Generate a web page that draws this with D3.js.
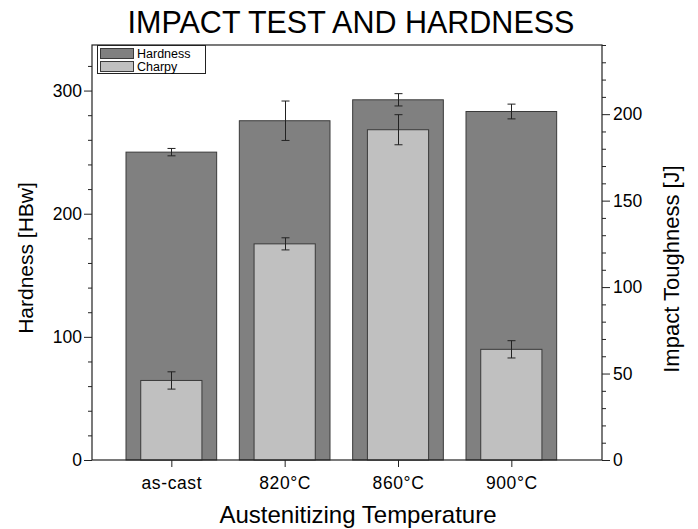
<!DOCTYPE html>
<html>
<head>
<meta charset="utf-8">
<script src="https://cdn.jsdelivr.net/npm/d3@7/dist/d3.min.js"></script>
<style>
  html, body { margin: 0; padding: 0; background: #fff; }
  svg text { font-family: "Liberation Sans", Arial, sans-serif; fill: #000; }
</style>
</head>
<body>
<svg id="chart" width="698" height="529"></svg>
<script>
// ---- data ----
const categories = ["as-cast", "820°C", "860°C", "900°C"];
const hardness = [250, 275.5, 292.5, 283];
const hardnessErr = [3, 16, 5, 6];
const charpy = [46, 125, 191, 64];
const charpyErr = [5, 3.5, 8.7, 5];
const leftTicks = [0, 100, 200, 300];
const rightTicks = [0, 50, 100, 150, 200];
const legendLabels = ["Hardness", "Charpy"];

// ---- layout ----
const plot = { left: 92, right: 602, top: 45, bottom: 460 };
const colHard = "#808080", colCharpy = "#c0c0c0", colEdge = "#3a3a3a";

const svg = d3.select("#chart");

const x = d3.scaleLinear().domain([0.3, 4.8]).range([plot.left, plot.right]);
const yL = d3.scaleLinear().domain([0, 337]).range([plot.bottom, plot.top]);
const yR = d3.scaleLinear().domain([0, 240]).range([plot.bottom, plot.top]);

const idx = categories.map((c, i) => i + 1);
const hw = 0.4, cw = 0.27;

// hardness bars
svg.append("g").selectAll("rect").data(hardness).join("rect")
  .attr("x", (d, i) => x(idx[i] - hw))
  .attr("width", (d, i) => x(idx[i] + hw) - x(idx[i] - hw))
  .attr("y", d => yL(d))
  .attr("height", d => yL(0) - yL(d))
  .attr("fill", colHard).attr("stroke", colEdge).attr("stroke-width", 1);

// charpy bars
svg.append("g").selectAll("rect").data(charpy).join("rect")
  .attr("x", (d, i) => x(idx[i] - cw))
  .attr("width", (d, i) => x(idx[i] + cw) - x(idx[i] - cw))
  .attr("y", d => yR(d))
  .attr("height", d => yR(0) - yR(d))
  .attr("fill", colCharpy).attr("stroke", colEdge).attr("stroke-width", 1);

// error bars
function errBars(vals, errs, scale) {
  const g = svg.append("g").attr("stroke", "#222").attr("stroke-width", 1);
  vals.forEach((v, i) => {
    const cx = Math.round(x(idx[i])) + 0.5;
    const y1 = scale(v + errs[i]), y2 = scale(v - errs[i]);
    g.append("line").attr("x1", cx).attr("x2", cx).attr("y1", y1).attr("y2", y2);
    g.append("line").attr("x1", cx - 4).attr("x2", cx + 4).attr("y1", y1).attr("y2", y1);
    g.append("line").attr("x1", cx - 4).attr("x2", cx + 4).attr("y1", y2).attr("y2", y2);
  });
}
errBars(hardness, hardnessErr, yL);
errBars(charpy, charpyErr, yR);

// frame
svg.append("rect")
  .attr("x", plot.left).attr("y", plot.top)
  .attr("width", plot.right - plot.left).attr("height", plot.bottom - plot.top)
  .attr("fill", "none").attr("stroke", "#222").attr("stroke-width", 1.2);

// axes
const fontTick = 17.5;
const axL = d3.axisLeft(yL).tickValues(leftTicks).tickSize(8).tickPadding(2);
const gL = svg.append("g").attr("transform", `translate(${plot.left},0)`).call(axL);
const axLm = d3.axisLeft(yL).tickValues(d3.range(20, 337, 20).filter(v => v % 100 !== 0)).tickSize(4).tickFormat("");
const gLm = svg.append("g").attr("transform", `translate(${plot.left},0)`).call(axLm);

const axR = d3.axisRight(yR).tickValues(rightTicks).tickSize(8).tickPadding(3);
const gR = svg.append("g").attr("transform", `translate(${plot.right},0)`).call(axR);
const axRm = d3.axisRight(yR).tickValues(d3.range(10, 241, 10).filter(v => v % 50 !== 0)).tickSize(4).tickFormat("");
const gRm = svg.append("g").attr("transform", `translate(${plot.right},0)`).call(axRm);

const axB = d3.axisBottom(x).tickValues(idx).tickFormat((d, i) => categories[i]).tickSize(7).tickPadding(10);
const gB = svg.append("g").attr("transform", `translate(0,${plot.bottom})`).call(axB);

[gL, gLm, gR, gRm, gB].forEach(g => {
  g.select(".domain").remove();
  g.selectAll(".tick line").attr("stroke", "#222").attr("stroke-width", 1);
  g.selectAll(".tick text").attr("font-size", fontTick).attr("font-family", "Liberation Sans, Arial, sans-serif").attr("fill", "#000");
});
gB.selectAll(".tick text").attr("letter-spacing", 0.6);

// titles
svg.append("text").attr("x", 351).attr("y", 33).attr("text-anchor", "middle")
  .attr("font-size", 30.5).text("IMPACT TEST AND HARDNESS");
svg.append("text").attr("x", 358).attr("y", 523).attr("text-anchor", "middle")
  .attr("font-size", 24).text("Austenitizing Temperature");
svg.append("text").attr("transform", "translate(33,258) rotate(-90)").attr("text-anchor", "middle")
  .attr("font-size", 21).text("Hardness [HBw]");
svg.append("text").attr("transform", "translate(679,269) rotate(-90)").attr("text-anchor", "middle")
  .attr("font-size", 22).text("Impact Toughness [J]");

// legend
const lg = svg.append("g");
lg.append("rect").attr("x", 97.5).attr("y", 45.5).attr("width", 108).attr("height", 28)
  .attr("fill", "#fff").attr("stroke", "#222").attr("stroke-width", 1);
[colHard, colCharpy].forEach((c, i) => {
  lg.append("rect").attr("x", 100.5).attr("y", 48.5 + i * 13).attr("width", 33).attr("height", 10)
    .attr("fill", c).attr("stroke", colEdge);
  lg.append("text").attr("x", 137).attr("y", 58 + i * 13).attr("font-size", 12.5).text(legendLabels[i]);
});
</script>
</body>
</html>
